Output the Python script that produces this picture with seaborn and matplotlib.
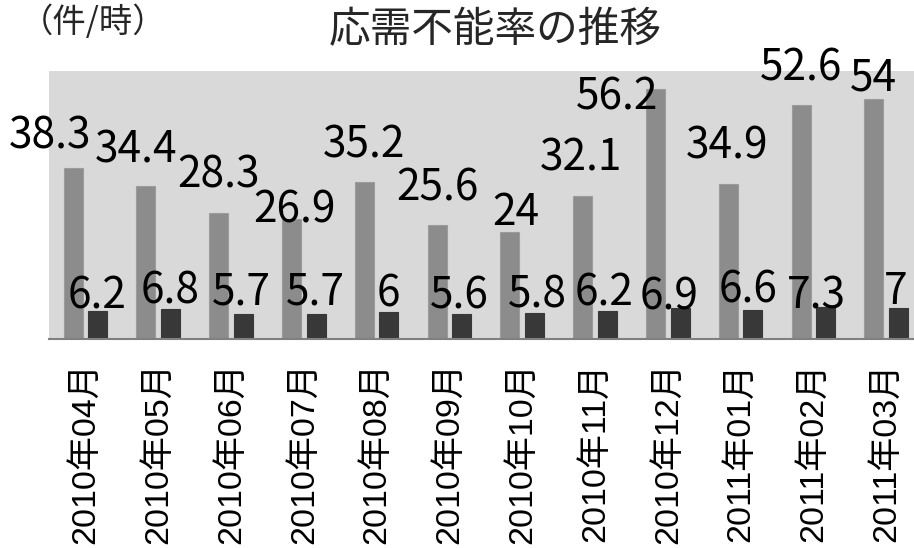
import matplotlib
matplotlib.use("Agg")
import matplotlib.pyplot as plt
import pandas as pd
import seaborn as sns

# ---- data -------------------------------------------------------------
months = ["2010年04月", "2010年05月", "2010年06月", "2010年07月",
          "2010年08月", "2010年09月", "2010年10月", "2010年11月",
          "2010年12月", "2011年01月", "2011年02月", "2011年03月"]
series_keys = ["A", "B"]
values_a = [38.3, 34.4, 28.3, 26.9, 35.2, 25.6, 24, 32.1, 56.2, 34.9, 52.6, 54]
values_b = [6.2, 6.8, 5.7, 5.7, 6, 5.6, 5.8, 6.2, 6.9, 6.6, 7.3, 7]
title = "応需不能率の推移"
unit = "（件/時）"

# ---- label placement (pixel offsets from each bar's top centre) -------
offsets_a = [(-23, 20), (-9.5, 23), (0, 26), (2.5, -3), (0, 25), (0, 25),
             (5.5, 7), (-1.5, 26), (-38.5, -21), (-1, 25), (0, 24), (0, 8)]
offsets_b = [(-0.5, 3), (-0.5, 5), (-2, 9), (-0.5, 9), (-0.5, 6), (-2.5, 6),
             (2.5, 6), (-3, 6), (-11.5, -1), (-4.5, 7), (-9.5, -2), (-3, 4)]

df = pd.DataFrame({
    "month": months * 2,
    "value": values_a + values_b,
    "series": [series_keys[0]] * len(months) + [series_keys[1]] * len(months),
})

sns.set_theme(style="white")
plt.rcParams["font.family"] = ["Noto Sans CJK JP", "DejaVu Sans"]

W, H = 914, 548
fig = plt.figure(figsize=(W / 100, H / 100), dpi=100)
ax = fig.add_axes([49 / W, 209 / H, 873.6 / W, 268 / H])

sns.barplot(data=df, x="month", y="value", hue="series", order=months,
            hue_order=series_keys, palette=["#8c8c8c", "#383838"],
            width=0.676, gap=0.23, saturation=1, legend=False, ax=ax)

ax.set_facecolor("#d9d9d9")
ax.set_xlim(-0.5, 11.5)
ax.set_ylim(0, 60.2)
ax.set_yticks([])
ax.set_xlabel("")
ax.set_ylabel("")
sns.despine(ax=ax, left=True)
ax.spines["bottom"].set_color("#808080")
ax.spines["bottom"].set_linewidth(1.5)
ax.tick_params(axis="x", length=0, pad=17)
for lab in ax.get_xticklabels():
    lab.set_rotation(90)
    lab.set_fontfamily(["Liberation Sans", "Noto Sans CJK JP"])
    lab.set_fontsize(24.5)
    lab.set_color("black")

for cont, offs, edge in zip(ax.containers, [offsets_a, offsets_b],
                            ["#9c9c9c", "#383838"]):
    for patch, (dx, dy) in zip(cont, offs):
        patch.set_edgecolor(edge)
        patch.set_linewidth(0.8)
        v = patch.get_height()
        ax.annotate(f"{v:g}", xy=(patch.get_x() + patch.get_width() / 2, v),
                    xytext=(dx, dy), textcoords="offset pixels",
                    ha="center", va="baseline", fontsize=30.5, color="black",
                    annotation_clip=False)

fig.text(495 / W, 1 - 31 / H, title, ha="center", va="center", fontsize=30)
fig.text(93 / W, 1 - 22 / H, unit, ha="center", va="center", fontsize=24)

fig.savefig("out.png", dpi=100)
